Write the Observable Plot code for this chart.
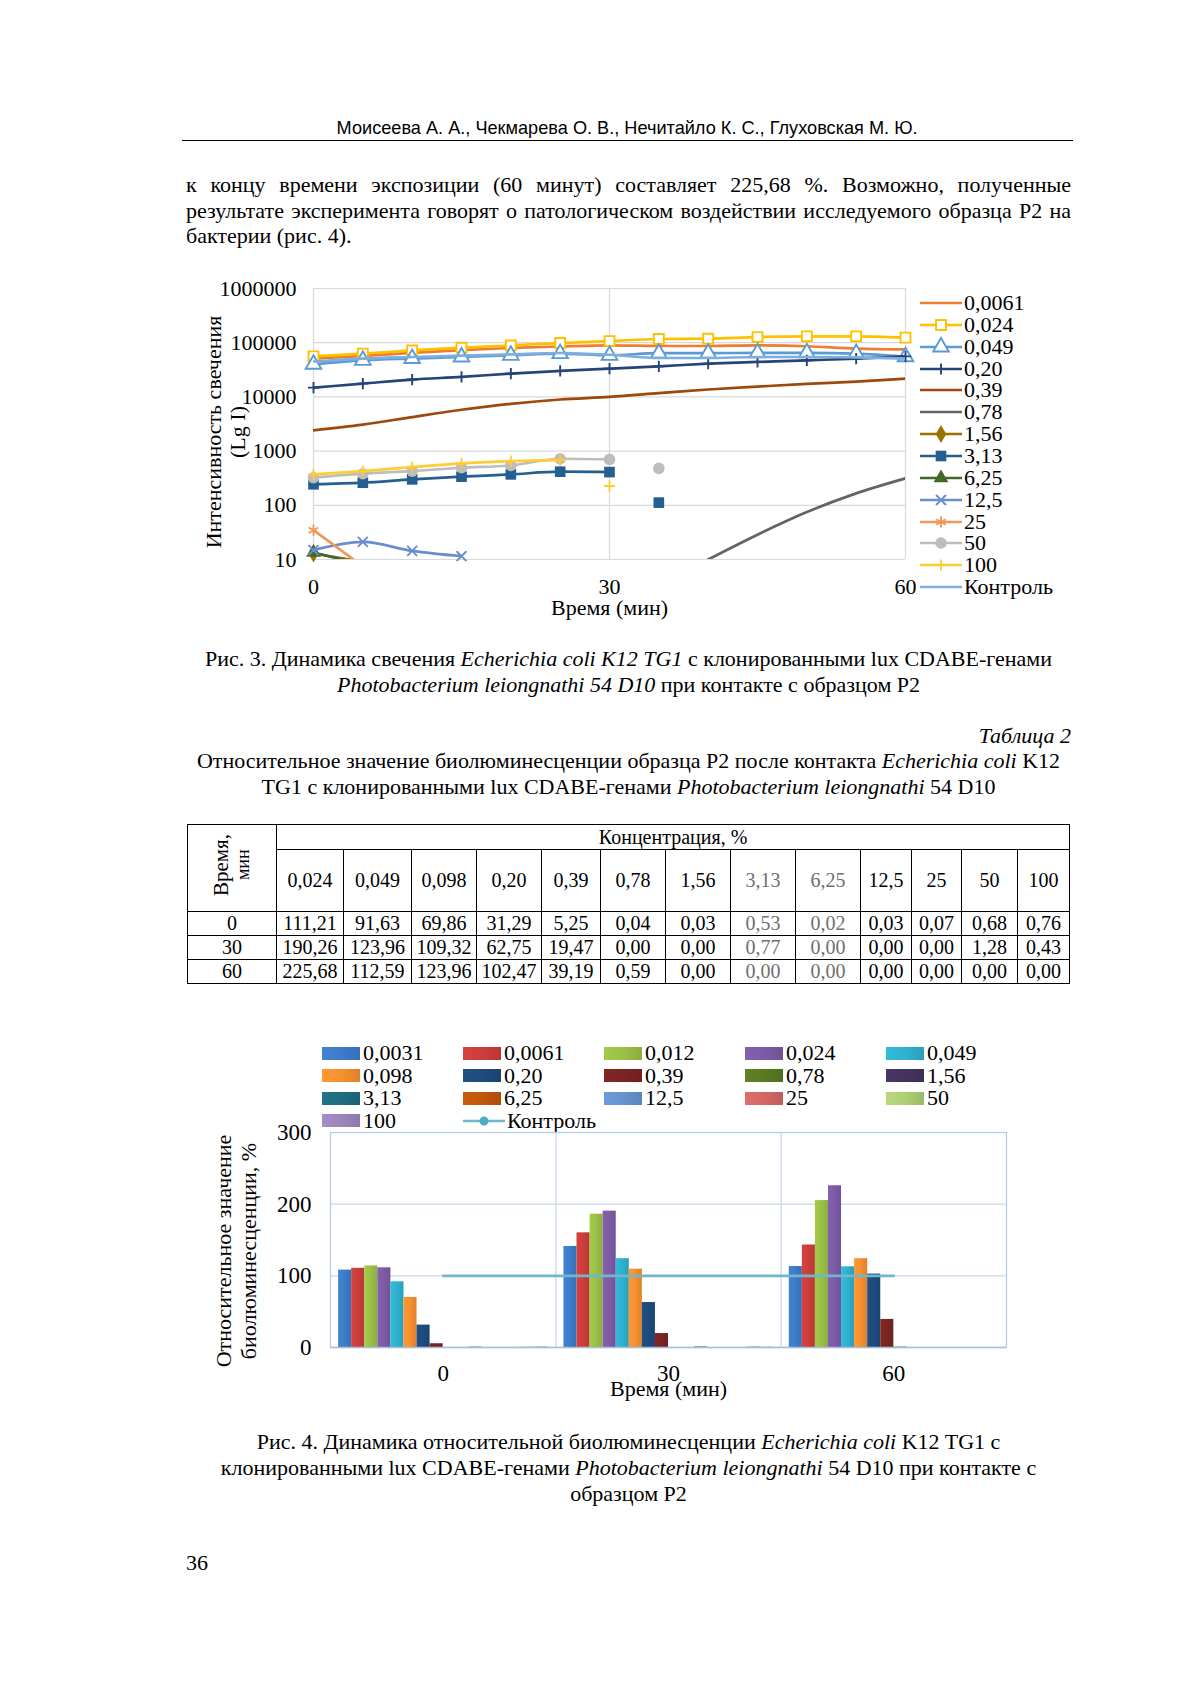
<!DOCTYPE html>
<html><head><meta charset="utf-8">
<script src="https://cdn.jsdelivr.net/npm/d3@7"></script>
<script src="https://cdn.jsdelivr.net/npm/@observablehq/plot@0.6"></script>
<style>
html,body{margin:0;padding:0;background:#fff;}
#page{position:relative;width:1200px;height:1697px;background:#fff;font-family:"Liberation Serif","Times New Roman",serif;color:#000;overflow:hidden;}
.t{position:absolute;white-space:nowrap;}
.j{text-align:justify;text-align-last:justify;}
table.data{position:absolute;border-collapse:collapse;table-layout:fixed;font-size:20px;}
table.data td{border:1px solid #000;text-align:center;vertical-align:middle;padding:0;white-space:nowrap;overflow:hidden;}
table.data td.g{color:#6f6f6f;}
.vert{writing-mode:vertical-rl;transform:rotate(180deg);display:inline-block;line-height:22px;font-size:21px;}
svg{overflow:visible;}
</style></head>
<body><div id="page"></div>
<script>
// ---------------- DATA: Fig. 3 (log-scale luminescence) ----------------
const times = [0,5,10,15,20,25,30,35,40,45,50,55,60];
const lineSeries = ["0,0061","0,024","0,049","0,20","0,39","0,78","1,56","3,13","6,25","12,5","25","50","100","Контроль"];
const v0061 = [51000,57000,65000,73000,80000,85000,89000,87000,87000,89000,86000,77500,75000];
const v024  = [56000,63000,72000,81000,89000,98600,107000,117000,118500,127000,131000,131000,124000];
const v049  = [40000,47300,51000,54500,58500,62800,58500,64000,64000,65000,65000,63000,55000];
const v020  = [14800,17600,20900,23400,26900,30100,33200,36700,41000,44100,47300,50800,56000];
const v039  = [2420,3070,4250,5800,7460,8960,10000,11700,13700,15500,17400,19100,21700];
const v078  = [null,null,null,null,null,null,null,null,10,28.7,75,166,314];
const v156  = [12.9,9.1,null,null,null,null,null,null,null,null,null,null,null];
const v313  = [244,261,301,337,372,417,410,null,null,null,null,null,null];
const v625  = [13.5,8,null,null,null,null,null,null,null,null,null,null,null];
const v125  = [14.9,21.1,14.4,11.5,null,null,null,null,null,null,null,null,null];
const v25   = [34.7,7.5,null,null,null,null,null,null,null,null,null,null,null];
const v50   = [323,383,428,493,544,723,703,null,null,null,null,null,null];
const v100  = [372,428,508,593,655,683,null,null,null,null,null,null,null];
const vCtrl = [45000,51000,54500,57600,61000,64500,60000,52200,52200,54500,54500,53500,51000];
const lineValues = [v0061,v024,v049,v020,v039,v078,v156,v313,v625,v125,v25,v50,v100,vCtrl];
// points measured without a connecting segment
const loneSeries = ["3,13","50","100"];
const loneTimes  = [35,35,30];
const loneValues = [112,480,227];
const yTicks1 = [10,100,1000,10000,100000,1000000];
const xTicks1 = [0,30,60];

// ---------------- DATA: Table 2 ----------------
const tableConc = ["0,024","0,049","0,098","0,20","0,39","0,78","1,56","3,13","6,25","12,5","25","50","100"];
const tableTimes = ["0","30","60"];
const tableRow0  = ["111,21","91,63","69,86","31,29","5,25","0,04","0,03","0,53","0,02","0,03","0,07","0,68","0,76"];
const tableRow30 = ["190,26","123,96","109,32","62,75","19,47","0,00","0,00","0,77","0,00","0,00","0,00","1,28","0,43"];
const tableRow60 = ["225,68","112,59","123,96","102,47","39,19","0,59","0,00","0,00","0,00","0,00","0,00","0,00","0,00"];

// ---------------- DATA: Fig. 4 (relative bioluminescence) ----------------
const barSeries = ["0,0031","0,0061","0,012","0,024","0,049","0,098","0,20","0,39","0,78","1,56","3,13","6,25","12,5","25","50","100"];
const barTimes = [0,30,60];
const bars0  = [108,110.5,113.8,111.21,91.63,69.86,31.29,5.25,0.04,0.03,0.53,0.02,0.03,0.07,0.68,0.76];
const bars30 = [141,160,186,190.26,123.96,109.32,62.75,19.47,0,0,0.77,0,0,0,1.28,0.43];
const bars60 = [113,143,205,225.68,112.59,123.96,102.47,39.19,0.59,0,0,0,0,0,0,0];
const controlVals = [100,100,100];
const yTicks2 = [0,100,200,300];

// ---------------- STYLES ----------------
const lineColors = ["#ED7D31","#FFC000","#5B9BD5","#264478","#9E480E","#636363","#997300","#255E91","#43682B","#698ED0","#F1975A","#BDBDBD","#FFCD33","#7CAFDD"];
const markerStyle = {
  "0,024":{symbol:"square",open:true,r:5.6},
  "0,049":{symbol:"triangle",open:true,r:5.8},
  "0,20":{symbol:"plus",stroke:true,r:3.7},
  "1,56":{symbol:"diamond",r:5.5},
  "3,13":{symbol:"square",r:6},
  "6,25":{symbol:"triangle",r:5.5},
  "12,5":{symbol:"times",stroke:true,r:4.6},
  "25":{symbol:"asterisk",stroke:true,r:5.2},
  "50":{symbol:"circle",r:5.8},
  "100":{symbol:"plus",stroke:true,r:3.7}
};
const d3Symbols = {square:d3.symbolSquare,triangle:d3.symbolTriangle,plus:d3.symbolPlus,diamond:d3.symbolDiamond,times:d3.symbolTimes,asterisk:d3.symbolAsterisk,circle:d3.symbolCircle};
const barColors = ["#3D7CC9","#CC3E3B","#9BC046","#7D5BA6","#2FB1D0","#F7902F","#1E4B7D","#7A2522","#5A7A24","#45335F","#1F6D80","#C1560C","#6694D0","#D26865","#AECF74","#9C86BD"];
const controlColor = "#72b6ca";
const groupSpan = 30;         // width of one time category on the x scale (minutes)
const groupInsetFrac = 0.036; // empty space at each side of a category

const page = document.getElementById("page");
function put(el, css){ el.classList.add("t"); Object.assign(el.style, css); page.appendChild(el); return el; }
function textLine(html, css){ const d=document.createElement("div"); d.innerHTML=html; return put(d, css); }

// ---------------- header & paragraph ----------------
{
  const d = textLine(`<span style="display:inline-block">Моисеева А. А., Чекмарева О. В., Нечитайло К. С., Глуховская М. Ю.</span>`,
    {left:"182px",width:"891px",textAlign:"center",top:"117px",fontFamily:"'Liberation Sans',Arial,sans-serif",fontSize:"19px",lineHeight:"22px"});
  const sp = d.firstChild; const w = sp.getBoundingClientRect().width;
  sp.style.transform = `scaleX(${581/w})`; sp.style.transformOrigin = "center";
}
put(document.createElement("div"),{left:"182px",top:"140px",width:"891px",height:"0",borderTop:"1.3px solid #000"});
const para = ["к концу времени экспозиции (60 минут) составляет 225,68 %. Возможно, полученные",
  "результате эксперимента говорят о патологическом воздействии исследуемого образца Р2 на",
  "бактерии (рис. 4)."];
para.forEach((s,i)=>{
  const d=textLine(`<span>${s}</span>`,{left:"186px",width:"885px",top:(172+i*25.5)+"px",fontSize:"22px",lineHeight:"26px"});
  if(i<2){
    const w=d.firstChild.getBoundingClientRect().width;
    if(w>885) d.style.fontSize=(22*885/w-0.05)+"px";
    d.innerHTML=s; d.classList.add("j");
  }
});

// ---------------- Fig. 3 ----------------
const lineRows = [];
lineSeries.forEach((s,k)=>lineValues[k].forEach((v,i)=>{ if(v!=null) lineRows.push({series:s,t:times[i],v}); }));
const loneRows = loneSeries.map((s,i)=>({series:s,t:loneTimes[i],v:loneValues[i]}));
const colorOf = Object.fromEntries(lineSeries.map((s,i)=>[s,lineColors[i]]));

const marks1 = [
  Plot.gridX(xTicks1,{stroke:"#d9d9d9",strokeOpacity:1,strokeWidth:1.2}),
  Plot.gridY(yTicks1,{stroke:"#d9d9d9",strokeOpacity:1,strokeWidth:1.2})
];
lineSeries.forEach(s=>{
  const rows = lineRows.filter(d=>d.series===s);
  marks1.push(Plot.line(rows,{x:"t",y:"v",stroke:"series",strokeWidth:2.7,curve:"monotone-x",clip:true}));
  const m = markerStyle[s];
  if(m){
    const pts = rows.filter(d=>d.v>=10).concat(loneRows.filter(d=>d.series===s));
    const o = {x:"t",y:"v",symbol:m.symbol,r:m.r};
    if(m.open){ o.fill="white"; o.stroke=colorOf[s]; o.strokeWidth=1.9; }
    else if(m.stroke){ o.fill="none"; o.stroke=colorOf[s]; o.strokeWidth=1.9; }
    else { o.fill=colorOf[s]; o.stroke="none"; }
    marks1.push(Plot.dot(pts,o));
  }
});
marks1.push(Plot.text(["Время (мин)"],{text:d=>d,frameAnchor:"bottom",lineAnchor:"middle",dy:48,fontSize:22}));
marks1.push(Plot.text(["Интенсивность свечения\n(Lg I)"],{text:d=>d,frameAnchor:"left",textAnchor:"middle",lineAnchor:"middle",dx:-88,dy:8,rotate:-90,lineHeight:1.1,fontSize:22}));

const chart1 = Plot.plot({
  width:720,height:350,marginLeft:123,marginRight:5,marginTop:18,marginBottom:61,
  style:{fontFamily:"Liberation Serif, serif",fontSize:"22px",color:"#000",background:"transparent",overflow:"visible"},
  x:{domain:[0,60],ticks:xTicks1,tickSize:0,tickPadding:19,label:null},
  y:{type:"log",domain:[10,1e6],ticks:yTicks1,tickFormat:d=>d.toFixed(0),tickSize:0,tickPadding:17,label:null},
  color:{domain:lineSeries,range:lineColors},
  marks:marks1
});
const c1 = document.createElement("div"); c1.appendChild(chart1);
put(c1,{left:"190px",top:"270px"});

// legend for Fig. 3
lineSeries.forEach((s,i)=>{
  const row = document.createElement("div");
  row.style.display="flex"; row.style.alignItems="center";
  const m = markerStyle[s];
  let sym="";
  if(m){
    const path = d3.symbol(d3Symbols[m.symbol], m.r*m.r*Math.PI)();
    const fill = m.open?"white":(m.stroke?"none":colorOf[s]);
    const stroke = (m.open||m.stroke)?colorOf[s]:"none";
    sym = `<path transform="translate(21,10)" d="${path}" fill="${fill}" stroke="${stroke}" stroke-width="1.9"/>`;
  }
  row.innerHTML = `<svg width="43" height="20"><line x1="0" x2="42" y1="10" y2="10" stroke="${colorOf[s]}" stroke-width="2.7"/>${sym}</svg><span style="margin-left:1px">${s}</span>`;
  put(row,{left:"920px",top:(292+i*21.85)+"px",fontSize:"22px",lineHeight:"22px"});
});

// ---------------- captions ----------------
const cap3 = ["Рис. 3. Динамика свечения <i>Echerichia coli K12 TG1</i> с клонированными lux CDABE-генами",
  "<i>Photobacterium leiongnathi 54 D10</i> при контакте с образцом Р2"];
cap3.forEach((s,i)=>textLine(s,{left:"186px",width:"885px",textAlign:"center",top:(646+i*26)+"px",fontSize:"22px",lineHeight:"26px"}));
textLine("<i>Таблица 2</i>",{left:"186px",width:"885px",textAlign:"right",top:"723px",fontSize:"22px",lineHeight:"26px"});
const tt = ["Относительное значение биолюминесценции образца Р2 после контакта <i>Echerichia coli</i> K12",
  "TG1 с клонированными lux CDABE-генами <i>Photobacterium leiongnathi</i> 54 D10"];
tt.forEach((s,i)=>textLine(s,{left:"186px",width:"885px",textAlign:"center",top:(748+i*26)+"px",fontSize:"22px",lineHeight:"26px"}));

// ---------------- Table 2 ----------------
const colW = [89,67,68,65,65,59,65,65,65,65,51,50,56,52];
const grayCols = new Set(["3,13","6,25"]);
const tbl = document.createElement("table"); tbl.className="data";
Object.assign(tbl.style,{left:"187px",top:"824px",width:"882px"});
let html = "<colgroup>"+colW.map(w=>`<col style="width:${w}px">`).join("")+"</colgroup>";
html += `<tr style="height:25px"><td rowspan="2"><span class="vert">Время,<br><span style="font-size:18px">мин</span></span></td><td colspan="${tableConc.length}">Концентрация, %</td></tr>`;
html += `<tr style="height:62px">`+tableConc.map(c=>`<td class="${grayCols.has(c)?'g':''}">${c}</td>`).join("")+"</tr>";
[tableRow0,tableRow30,tableRow60].forEach((r,k)=>{
  html += `<tr style="height:24px"><td>${tableTimes[k]}</td>`+r.map((v,j)=>`<td class="${grayCols.has(tableConc[j])?'g':''}">${v}</td>`).join("")+"</tr>";
});
tbl.innerHTML = html; page.appendChild(tbl);

// ---------------- Fig. 4 legend ----------------
const legCols = 5;
barSeries.forEach((s,i)=>{
  const col=i%legCols,row=Math.floor(i/legCols);
  const d=document.createElement("div"); d.style.display="flex"; d.style.alignItems="center";
  d.innerHTML=`<span style="display:inline-block;width:38px;height:13px;background:linear-gradient(90deg,${d3.color(barColors[i]).brighter(0.15)} 0%,${barColors[i]} 50%,${d3.color(barColors[i]).darker(0.3)} 100%);margin-right:3px"></span><span>${s}</span>`;
  put(d,{left:(322+col*141)+"px",top:(1042+row*22.6)+"px",fontSize:"22px",lineHeight:"22px"});
});
{
  const d=document.createElement("div"); d.style.display="flex"; d.style.alignItems="center";
  d.innerHTML=`<svg width="43" height="20"><line x1="0" x2="42" y1="10" y2="10" stroke="${controlColor}" stroke-width="2.5"/><circle cx="21" cy="10" r="4.5" fill="#4bacc6"/></svg><span style="margin-left:1px">Контроль</span>`;
  put(d,{left:"463px",top:(1042+3*22.6)+"px",fontSize:"22px",lineHeight:"22px"});
}

// ---------------- Fig. 4 chart ----------------
const barW = groupSpan*(1-2*groupInsetFrac)/barSeries.length;
const barRows = [];
[bars0,bars30,bars60].forEach((arr,k)=>arr.forEach((v,i)=>{
  const x1 = barTimes[k]-groupSpan/2+groupSpan*groupInsetFrac+i*barW;
  barRows.push({t:barTimes[k],series:barSeries[i],v,x1,x2:x1+barW});
}));
const controlRows = barTimes.map((t,i)=>({t,v:controlVals[i]}));
const xDomain2 = [barTimes[0]-groupSpan/2, barTimes[barTimes.length-1]+groupSpan/2];
const groupEdges = barTimes.slice(1).map(t=>t-groupSpan/2);
const gradIds = barSeries.map((s,i)=>`url(#bargrad${i})`);
const chart2 = Plot.plot({
  width:820,height:278,marginLeft:130,marginRight:14,marginTop:10,marginBottom:53,
  style:{fontFamily:"Liberation Serif, serif",fontSize:"23px",color:"#000",background:"transparent",overflow:"visible"},
  x:{domain:xDomain2,ticks:barTimes,tickSize:0,tickPadding:17,label:null,tickFormat:d=>String(d)},
  y:{domain:[0,300],ticks:yTicks2,tickSize:0,tickPadding:19,label:null},
  color:{type:"ordinal",domain:barSeries,range:gradIds},
  marks:[
    Plot.gridY([100,200],{stroke:"#c9d9ee",strokeOpacity:1,strokeWidth:1.3}),
    Plot.gridX(groupEdges,{stroke:"#c9d9ee",strokeOpacity:1,strokeWidth:1.3}),
    Plot.frame({stroke:"#b9cce4",strokeWidth:1.3}),
    Plot.rect(barRows,{x1:"x1",x2:"x2",y1:0,y2:"v",fill:"series"}),
    Plot.ruleY([0],{stroke:"#a9bedb",strokeWidth:1.3}),
    Plot.line(controlRows,{x:"t",y:"v",stroke:controlColor,strokeWidth:2.6}),
    Plot.text(["Время (мин)"],{text:d=>d,frameAnchor:"bottom",lineAnchor:"middle",dy:41,fontSize:22}),
    Plot.text(["Относительное значение\nбиолюминесценции, %"],{text:d=>d,frameAnchor:"left",textAnchor:"middle",lineAnchor:"middle",dx:-95,dy:11,rotate:-90,lineHeight:1.13,fontSize:22})
  ]
});
{
  const ns="http://www.w3.org/2000/svg";
  const defs=document.createElementNS(ns,"defs");
  defs.innerHTML = barColors.map((c,i)=>`<linearGradient id="bargrad${i}" x1="0" x2="1" y1="0" y2="0"><stop offset="0" stop-color="${d3.color(c).brighter(0.15)}"/><stop offset="0.5" stop-color="${c}"/><stop offset="1" stop-color="${d3.color(c).darker(0.3)}"/></linearGradient>`).join("");
  chart2.insertBefore(defs, chart2.firstChild);
}
const c2 = document.createElement("div"); c2.appendChild(chart2);
put(c2,{left:"200px",top:"1122px"});

// ---------------- caption 4 & page number ----------------
const cap4 = ["Рис. 4. Динамика относительной биолюминесценции <i>Echerichia coli</i> K12 TG1 с",
  "клонированными lux CDABE-генами <i>Photobacterium leiongnathi</i> 54 D10 при контакте с",
  "образцом Р2"];
cap4.forEach((s,i)=>textLine(s,{left:"186px",width:"885px",textAlign:"center",top:(1429+i*26)+"px",fontSize:"22px",lineHeight:"26px"}));
textLine("36",{left:"186px",top:"1550px",fontSize:"22px",lineHeight:"26px"});
</script>
</body></html>
